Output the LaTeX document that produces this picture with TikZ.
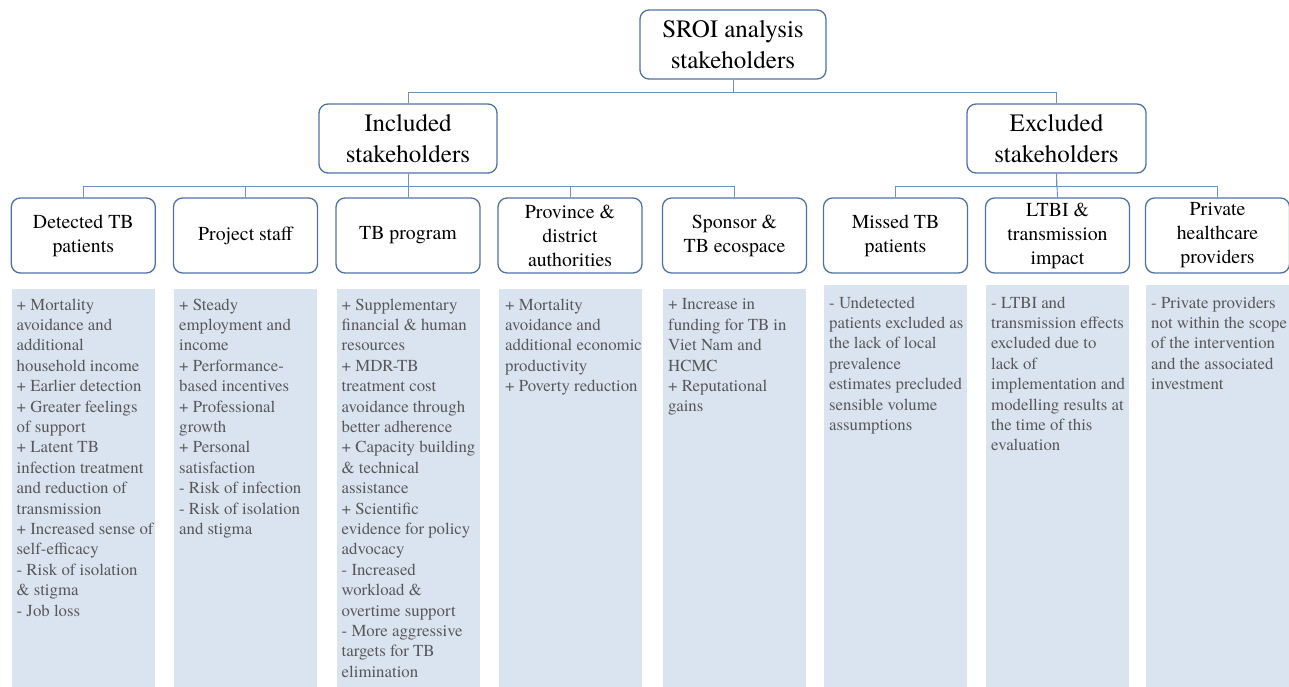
\documentclass[tikz,border=0pt]{standalone}
\usepackage{fontspec}
\setmainfont{texgyretermes}[Extension=.otf, UprightFont=*-regular, BoldFont=*-bold, ItalicFont=*-italic, BoldItalicFont=*-bolditalic]

\definecolor{boxline}{RGB}{79,114,166}
\definecolor{linkline}{RGB}{110,145,192}
\definecolor{panelfill}{RGB}{218,227,240}
\definecolor{paneltext}{RGB}{88,88,88}

\begin{document}
\begin{tikzpicture}[x=1pt, y=-1pt,
    topbox/.style={draw=boxline, line width=1.3pt, rounded corners=9pt, align=center, inner sep=0pt, minimum height=69pt, font=\fontsize{25}{31}\selectfont},
    subbox/.style={draw=boxline, line width=1.3pt, rounded corners=9pt, align=center, inner sep=0pt, minimum width=144pt, minimum height=75pt, font=\fontsize{19.8}{24}\selectfont},
    link/.style={draw=linkline, line width=0.9pt},
    panel/.style={fill=panelfill},
    note/.style={anchor=north west, align=left, inner sep=0pt, text=paneltext, font=\fontsize{16.8}{20.4}\selectfont}]
      % \draw[help lines, gray!50, very thin] (0,0) grid[step=50] (1289,687);
      \useasboundingbox (0,0) rectangle (1289,687);

      % top levels
      \node[topbox, minimum width=186pt] (root) at (733,44.5) {SROI analysis\\stakeholders};
      \node[topbox, minimum width=178pt] (inc) at (408,138.5) {Included\\stakeholders};
      \node[topbox, minimum width=179pt] (exc) at (1056.5,138.5) {Excluded\\stakeholders};

      % stakeholder groups
      \node[subbox] (detected) at (83.3,235.5) {Detected TB\\patients};
      \node[subbox] (staff) at (245.5,235.5) {Project staff};
      \node[subbox] (program) at (408,235.5) {TB program};
      \node[subbox] (province) at (570,235.5) {Province \&\\district\\authorities};
      \node[subbox] (sponsor) at (734.5,235.5) {Sponsor \&\\TB ecospace};
      \node[subbox] (missed) at (895.5,235.5) {Missed TB\\patients};
      \node[subbox] (ltbi) at (1057.5,235.5) {LTBI \&\\transmission\\impact};
      \node[subbox] (private) at (1217.5,235.5) {Private\\healthcare\\providers};

      \draw[link] (root.south) -- ++(0,13) -| (inc.north);
      \draw[link] (root.south) -- ++(0,13) -| (exc.north);
      \draw[link] (inc.south) -- ++(0,13) -| (detected.north);
      \draw[link] (inc.south) -- ++(0,13) -| (staff.north);
      \draw[link] (inc.south) -- (program.north);
      \draw[link] (inc.south) -- ++(0,13) -| (province.north);
      \draw[link] (inc.south) -- ++(0,13) -| (sponsor.north);
      \draw[link] (exc.south) -- ++(0,13) -| (missed.north);
      \draw[link] (exc.south) -- (ltbi.north);
      \draw[link] (exc.south) -- ++(0,13) -| (private.north);

      % outcome panels
      \fill[panel] (11.8,289) rectangle (154.8,687);
      \fill[panel] (174,289) rectangle (317,687);
      \fill[panel] (336.5,289) rectangle (479.5,687);
      \fill[panel] (498.5,289) rectangle (641.5,687);
      \fill[panel] (663,289) rectangle (806,687);
      \fill[panel] (824,285) rectangle (967,687);
      \fill[panel] (986,285) rectangle (1129,687);
      \fill[panel] (1146,285) rectangle (1289,687);

      \node[note] (detectedtxt) at (16.5,298.5) {+ Mortality\\avoidance and\\additional\\household income\\+ Earlier detection\\+ Greater feelings\\of support\\+ Latent TB\\infection treatment\\and reduction of\\transmission\\+ Increased sense of\\self-efficacy\\- Risk of isolation\\\& stigma\\- Job loss};
      \node[note] (stafftxt) at (179,298.5) {+ Steady\\employment and\\income\\+ Performance-\\based incentives\\+ Professional\\growth\\+ Personal\\satisfaction\\- Risk of infection\\- Risk of isolation\\and stigma};
      \node[note] (programtxt) at (341.5,298.5) {+ Supplementary\\financial \& human\\resources\\+ MDR-TB\\treatment cost\\avoidance through\\better adherence\\+ Capacity building\\\& technical\\assistance\\+ Scientific\\evidence for policy\\advocacy\\- Increased\\workload \&\\overtime support\\- More aggressive\\targets for TB\\elimination};
      \node[note] (provincetxt) at (505,298.5) {+ Mortality\\avoidance and\\additional economic\\productivity\\+ Poverty reduction};
      \node[note] (sponsortxt) at (668,298.5) {+ Increase in\\funding for TB in\\Viet Nam and\\HCMC\\+ Reputational\\gains};
      \node[note] (missedtxt) at (829,296.5) {- Undetected\\patients excluded as\\the lack of local\\prevalence\\estimates precluded\\sensible volume\\assumptions};
      \node[note] (ltbitxt) at (991,296.5) {- LTBI and\\transmission effects\\excluded due to\\lack of\\implementation and\\modelling results at\\the time of this\\evaluation};
      \node[note] (privatetxt) at (1151,296.5) {- Private providers\\not within the scope\\of the intervention\\and the associated\\investment};
    \end{tikzpicture}
\end{document}
